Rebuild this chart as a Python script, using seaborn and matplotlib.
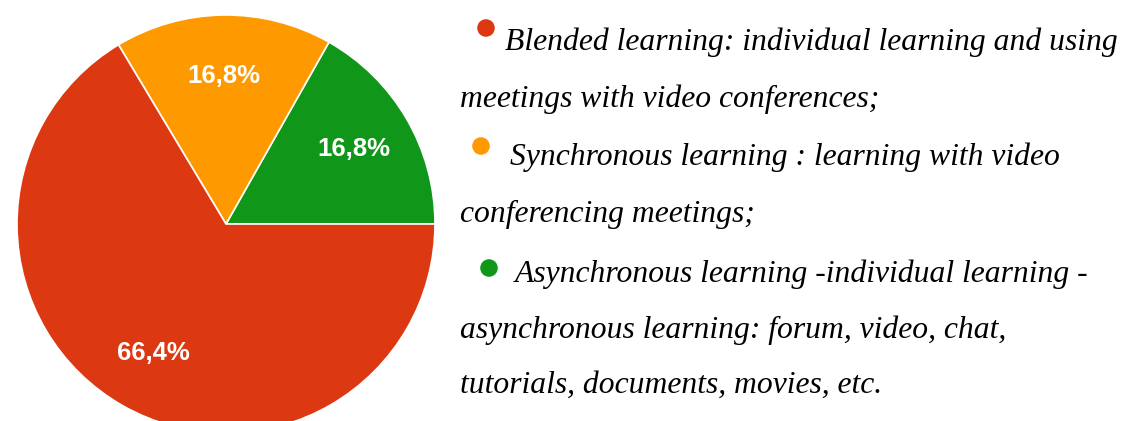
import matplotlib
matplotlib.use("Agg")
import matplotlib.pyplot as plt
import numpy as np
import seaborn as sns

categories = ["Asynchronous learning", "Synchronous learning", "Blended learning"]
values = [16.8, 16.8, 66.4]
pct_labels = ["16,8%", "16,8%", "66,4%"]
colors = ["#109618", "#FF9900", "#DC3912"]

legend_lines = [
    "Blended learning: individual learning and using",
    "meetings with video conferences;",
    "Synchronous learning : learning with video",
    "conferencing meetings;",
    "Asynchronous learning -individual learning -",
    "asynchronous learning: forum, video, chat,",
    "tutorials, documents, movies, etc.",
]

sns.set_theme(style="white")
plt.rcParams["font.family"] = ["Liberation Serif", "DejaVu Serif"]

W, H = 1127, 421
fig = plt.figure(figsize=(W / 100, H / 100), dpi=100)
fig.patch.set_facecolor("white")

# pie axes in pixel geometry
cx, cy, r = 226, 224, 209
ax = fig.add_axes([(cx - r) / W, (H - cy - r) / H, 2 * r / W, 2 * r / H])
wedges, texts = ax.pie(values, colors=colors, startangle=0, counterclock=True,
                       wedgeprops=dict(edgecolor="white", linewidth=1.2))
for w, lab in zip(wedges, pct_labels):
    ang = np.deg2rad((w.theta1 + w.theta2) / 2)
    d = 0.71
    ax.text(d * np.cos(ang), d * np.sin(ang), lab, ha="center", va="center",
            color="white", fontsize=18.5, fontweight="bold", family="Liberation Sans")
ax.set_xlim(-1, 1)
ax.set_ylim(-1, 1)
ax.set_aspect("auto")
ax.axis("off")

# overlay axes for legend in pixel coordinates
ov = fig.add_axes([0, 0, 1, 1])
ov.set_xlim(0, W)
ov.set_ylim(H, 0)
ov.axis("off")

marker_pos = [(486, 28, colors[2]), (481, 146, colors[1]), (489, 268, colors[0])]
for mx, my, mc in marker_pos:
    ov.scatter([mx], [my], s=160, color=mc, edgecolors="none", zorder=3)

line_pos = [(505, 50), (460, 107), (510, 165), (460, 222), (515, 282), (460, 338), (460, 393)]
for (tx, ty), txt in zip(line_pos, legend_lines):
    ov.text(tx, ty, txt, ha="left", va="baseline", fontsize=22.8, style="italic",
            color="black")

fig.savefig("out.png", dpi=100, facecolor="white")
